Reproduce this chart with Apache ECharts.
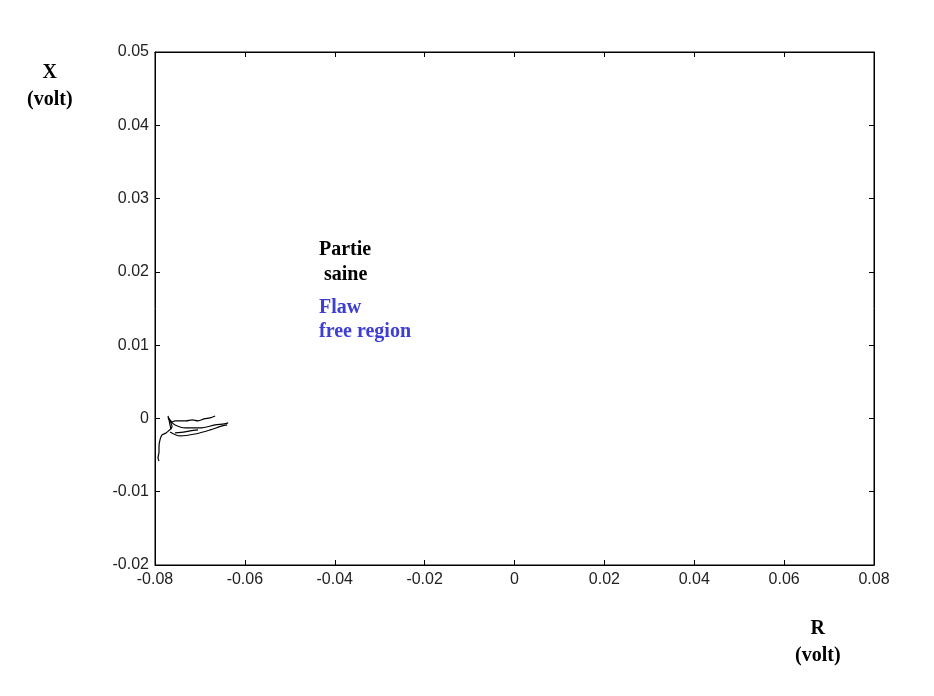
<!DOCTYPE html>
<html>
<head>
<meta charset="utf-8">
<script src="https://cdn.jsdelivr.net/npm/echarts@6/dist/echarts.min.js"></script>
<style>html,body{margin:0;padding:0;background:#fff}#c{width:934px;height:696px}</style>
</head>
<body>
<div id="c"></div>
<script>
// Axis settings
const xTicks = [-0.08, -0.06, -0.04, -0.02, 0, 0.02, 0.04, 0.06, 0.08];
const yTicks = [-0.02, -0.01, 0, 0.01, 0.02, 0.03, 0.04, 0.05];

// Strokes of the measured trace (R, X in volts)
const s1R = [-0.0771, -0.07666, -0.07621, -0.07554, -0.07443, -0.07309, -0.07175, -0.07041, -0.06907, -0.06774, -0.06662];
const s1X = [0.0002, -0.0002, -0.00048, -0.00034, -0.00034, -0.00034, -0.0002, -0.00034, -0.00007, 0.00007, 0.00034];

const s2R = [-0.07666, -0.07554, -0.07331, -0.06997, -0.06662, -0.06461, -0.06372];
const s2X = [-0.00034, -0.00089, -0.0013, -0.0013, -0.00089, -0.00075, -0.00061];

const s3R = [-0.07666, -0.07443, -0.07108, -0.06774, -0.06506, -0.06394];
const s3X = [-0.00184, -0.00239, -0.00212, -0.00157, -0.00102, -0.00089];

const s4R = [-0.07554, -0.07331, -0.0722, -0.07041];
const s4X = [-0.00198, -0.00184, -0.0017, -0.00157];

const s5R = [-0.0771, -0.07621, -0.07755, -0.07844, -0.07889, -0.07911, -0.07911, -0.07933, -0.07911];
const s5X = [0.0001, -0.0011, -0.00198, -0.00225, -0.00293, -0.00389, -0.00457, -0.0054, -0.0058];

const s6R = [-0.0771, -0.07688, -0.07666, -0.07643];
const s6X = [0.00034, -0.0002, -0.00089, -0.0015];

function pairs(a, b) { return a.map((v, i) => [v, b[i]]); }

const chart = echarts.init(document.getElementById('c'));
const lab = { color: '#222', fontFamily: 'Arial, Liberation Sans, sans-serif', fontSize: 16 };
const fmt = v => String(Math.round(v * 100) / 100);
const lineSeries = [[s1R, s1X], [s2R, s2X], [s3R, s3X], [s4R, s4X], [s5R, s5X], [s6R, s6X]].map(p => ({
  type: 'line', data: pairs(p[0], p[1]), showSymbol: false, smooth: 0.3,
  lineStyle: { color: '#000', width: 1.2 }, xAxisIndex: 0, yAxisIndex: 0, silent: true, animation: false
}));
const serif = 'bold 20px "Liberation Serif", "Times New Roman", serif';
const axLine = { show: true, onZero: false, lineStyle: { color: '#000' } };
const tick = { inside: true, length: 5, lineStyle: { color: '#000' } };
chart.setOption({
  animation: false,
  grid: { left: 155, right: 60, top: 52, bottom: 131, show: true, borderColor: '#000', borderWidth: 1 },
  xAxis: [
    { type: 'value', min: -0.08, max: 0.08, interval: 0.02, position: 'bottom',
      axisLine: axLine, axisTick: tick, splitLine: { show: false },
      axisLabel: Object.assign({ margin: 7, formatter: fmt }, lab) },
    { type: 'value', min: -0.08, max: 0.08, interval: 0.02, position: 'top',
      axisLine: axLine, axisTick: tick, splitLine: { show: false }, axisLabel: { show: false } }
  ],
  yAxis: [
    { type: 'value', min: -0.02, max: 0.05, interval: 0.01, position: 'left',
      axisLine: axLine, axisTick: tick, splitLine: { show: false },
      axisLabel: Object.assign({ margin: 6, formatter: fmt }, lab) },
    { type: 'value', min: -0.02, max: 0.05, interval: 0.01, position: 'right',
      axisLine: axLine, axisTick: tick, splitLine: { show: false }, axisLabel: { show: false } }
  ],
  series: lineSeries,
  graphic: [
    { type: 'text', left: 27, top: 59, style: { text: 'X\n(volt)', fill: '#000', font: serif, textAlign: 'center', lineHeight: 27 } },
    { type: 'text', left: 795, top: 615, style: { text: 'R\n(volt)', fill: '#000', font: serif, textAlign: 'center', lineHeight: 27 } },
    { type: 'text', left: 319, top: 237, style: { text: 'Partie\n saine', fill: '#000', font: serif, lineHeight: 25 } },
    { type: 'text', left: 319, top: 296, style: { text: 'Flaw\nfree region', fill: '#3e3ed4', font: serif, lineHeight: 24 } }
  ]
});
</script>
</body>
</html>
